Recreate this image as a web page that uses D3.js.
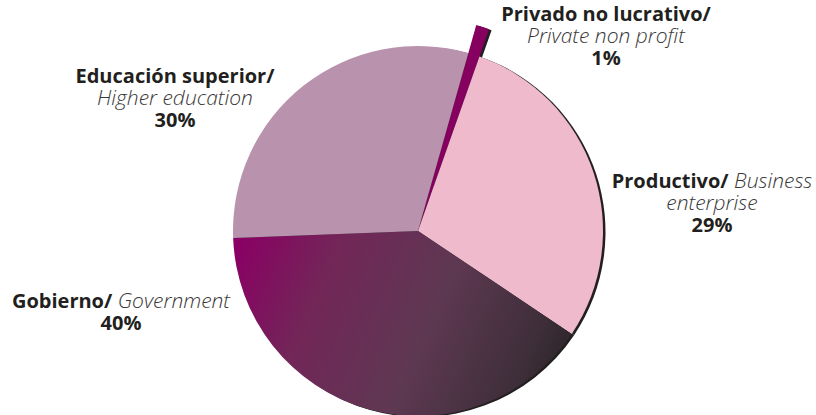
<!DOCTYPE html>
<html>
<head>
<meta charset="utf-8">
<script src="https://cdn.jsdelivr.net/npm/d3@7"></script>
<style>
body { margin: 0; background: #fff; }
text { font-family: "Open Sans", "Noto Sans", sans-serif; fill: #231f20; }
</style>
</head>
<body>
<script>
// data
var sectors = ['Privado no lucrativo/', 'Productivo/', 'Gobierno/', 'Educación superior/'];
var sectorsEn = ['Private non profit', 'Business enterprise', 'Government', 'Higher education'];
var shares = [1, 29, 40, 30];
var colors = ['#85005f', '#efbacc', 'url(#gov)', '#b993ad'];

var width = 816, height = 415;
var cx = 418, cy = 231, r = 185;

var svg = d3.select('body').append('svg')
    .attr('width', width)
    .attr('height', height);

// gradient coords are in the pie group's space (centre at 0,0)
var defs = svg.append('defs');
var grad = defs.append('linearGradient')
    .attr('id', 'gov')
    .attr('gradientUnits', 'userSpaceOnUse')
    .attr('x1', -180).attr('y1', 10)
    .attr('x2', 165).attr('y2', 160);
grad.append('stop').attr('offset', '0%').attr('stop-color', '#8a0064');
grad.append('stop').attr('offset', '25%').attr('stop-color', '#722658');
grad.append('stop').attr('offset', '55%').attr('stop-color', '#5e3852');
grad.append('stop').attr('offset', '82%').attr('stop-color', '#3f2f3a');
grad.append('stop').attr('offset', '100%').attr('stop-color', '#231f20');

var start = 15.8 * Math.PI / 180;
var pie = d3.pie().sort(null).value(function(d){ return d; })
    .startAngle(start).endAngle(start + 2 * Math.PI);
var arcs = pie(shares);

var arc = d3.arc().innerRadius(0).outerRadius(function(d, i){
    return i === 0 ? 214 : r;
});

var g = svg.append('g').attr('transform', 'translate(' + cx + ',' + cy + ')');

// shadow
g.selectAll('path.shadow')
    .data(arcs)
    .enter()
    .append('path')
    .attr('class', 'shadow')
    .attr('transform', 'translate(2.5,1)')
    .attr('d', function(d, i){ return arc(d, i); })
    .attr('fill', '#231f20');

g.selectAll('path.slice')
    .data(arcs)
    .enter()
    .append('path')
    .attr('class', 'slice')
    .attr('d', function(d, i){ return arc(d, i); })
    .attr('fill', function(d, i){ return colors[i]; });

// labels
var fs = 20;
function label(x, y, lines){
    var t = svg.append('text')
        .attr('text-anchor', 'middle')
        .attr('font-size', fs);
    lines.forEach(function(line, k){
        var ts = t.append('tspan').attr('x', x).attr('y', y + k * 22);
        line.forEach(function(part){
            ts.append('tspan')
                .attr('font-weight', part[1] ? 700 : 300)
                .attr('font-style', part[1] ? 'normal' : 'italic')
                .attr('font-size', part[1] ? fs : fs + 1)
                .style('fill', part[1] ? '#231f20' : '#3a3738')
                .text(part[0]);
        });
    });
}

label(606, 21, [[[sectors[0], true]], [[sectorsEn[0], false]], [[shares[0] + '%', true]]]);
label(712, 188, [[[sectors[1], true], [' Business', false]], [['enterprise', false]], [[shares[1] + '%', true]]]);
label(121, 308, [[[sectors[2], true], [' ' + sectorsEn[2], false]], [[shares[2] + '%', true]]]);
label(175, 83, [[[sectors[3], true]], [[sectorsEn[3], false]], [[shares[3] + '%', true]]]);
</script>
</body>
</html>
